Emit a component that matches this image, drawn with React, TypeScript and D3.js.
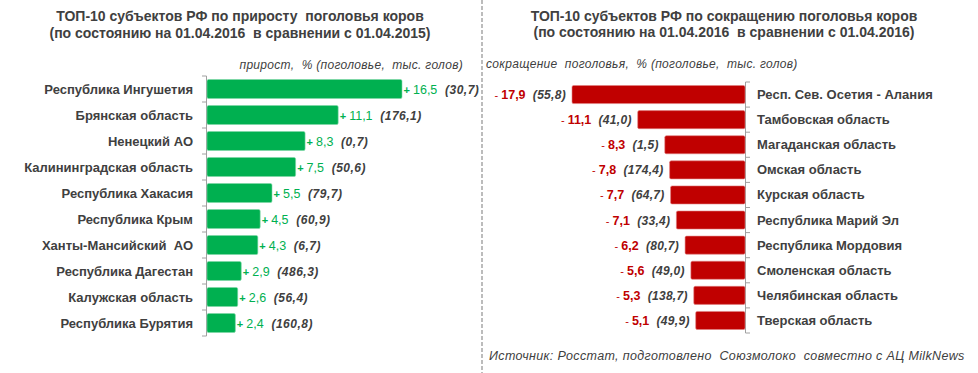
import React from "react";
import * as d3 from "d3";

// left panel: growth
const growthRegions = [
  "Республика Ингушетия",
  "Брянская область",
  "Ненецкий АО",
  "Калининградская область",
  "Республика Хакасия",
  "Республика Крым",
  "Ханты-Мансийский  АО",
  "Республика Дагестан",
  "Калужская область",
  "Республика Бурятия",
];
const growthPct = [16.5, 11.1, 8.3, 7.5, 5.5, 4.5, 4.3, 2.9, 2.6, 2.4];
const growthHead = [30.7, 176.1, 0.7, 50.6, 79.7, 60.9, 6.7, 486.3, 56.4, 160.8];

// right panel: decline
const declineRegions = [
  "Респ. Сев. Осетия - Алания",
  "Тамбовская область",
  "Магаданская область",
  "Омская область",
  "Курская область",
  "Республика Марий Эл",
  "Республика Мордовия",
  "Смоленская область",
  "Челябинская область",
  "Тверская область",
];
const declinePct = [17.9, 11.1, 8.3, 7.8, 7.7, 7.1, 6.2, 5.6, 5.3, 5.1];
const declineHead = [55.8, 41.0, 1.5, 174.4, 64.7, 33.4, 80.7, 49.0, 138.7, 49.9];

const W = 978;
const H = 373;
const FONT = "'Liberation Sans', Arial, sans-serif";
const TXT = "#404040";
const GREEN = "#00b050";
const RED = "#c00000";

const fmt = (v: number) => v.toFixed(1).replace(".", ",");
const pre = { whiteSpace: "pre" } as React.CSSProperties;

export default function App() {
  // left scales
  const yL = d3.scaleBand<string>().domain(growthRegions).range([76, 336]).paddingInner(0.27).paddingOuter(0.135);
  const xL = d3.scaleLinear().domain([0, 16.5]).range([207, 402]);
  // right scales
  const yR = d3.scaleBand<string>().domain(declineRegions).range([82, 333]).paddingInner(0.28).paddingOuter(0.14);
  const xR = d3.scaleLinear().domain([0, 17.9]).range([745, 572]);

  const ticksL = d3.range(11).map((i) => 76 + (i * (336 - 76)) / 10);
  const ticksR = d3.range(11).map((i) => 82 + (i * (333 - 82)) / 10);

  return (
    <svg width={W} height={H} style={{ position: "absolute", left: 0, top: 0, background: "#fff" }} fontFamily={FONT}>
      <rect width={W} height={H} fill="#fff" />

      {/* titles */}
      <g fontWeight="bold" fontSize={14} fill={TXT} textAnchor="middle">
        <text x={240} y={21} xmlSpace="preserve" style={pre}>ТОП-10 субъектов РФ по приросту  поголовья коров</text>
        <text x={240} y={38} xmlSpace="preserve" style={pre}>(по состоянию на 01.04.2016  в сравнении с 01.04.2015)</text>
        <text x={724} y={21} xmlSpace="preserve" style={pre}>ТОП-10 субъектов РФ по сокращению поголовья коров</text>
        <text x={724} y={37} xmlSpace="preserve" style={pre}>(по состоянию на 01.04.2016  в сравнении с 01.04.2016)</text>
      </g>
      <g fontStyle="italic" fontSize={12} fill={TXT} letterSpacing={0.3}>
        <text x={463} y={69} textAnchor="end" xmlSpace="preserve" style={pre}>прирост,  % (поголовье,  тыс. голов)</text>
        <text x={486} y={68} xmlSpace="preserve" style={pre}>сокращение  поголовья,  % (поголовье,  тыс. голов)</text>
        <text x={489} y={360} fontSize={12.5} letterSpacing={0.35} xmlSpace="preserve" style={pre}>Источник: Росстат, подготовлено  Союзмолоко  совместно с АЦ MilkNews</text>
      </g>

      {/* separator */}
      <line x1={482} x2={482} y1={0} y2={H} stroke="#a6a6a6" strokeWidth={1.5} strokeDasharray="4,2" />

      {/* left bars */}
      <line x1={206.5} x2={206.5} y1={76} y2={336} stroke="#a0a0a0" />
      {ticksL.map((t, i) => (
        <line key={i} x1={202} x2={206.5} y1={t} y2={t} stroke="#a0a0a0" />
      ))}
      {growthRegions.map((r, i) => {
        const y = yL(r)!;
        const bh = yL.bandwidth();
        const x1 = xL(growthPct[i]);
        return (
          <g key={r}>
            <rect x={xL(0)} y={y} width={x1 - xL(0)} height={bh} fill={GREEN} stroke="#7fd6a7" strokeWidth={0.6} rx={1.5} />
            <text x={193} y={y + bh / 2 + 4.5} textAnchor="end" fontWeight="bold" fontSize={13} fill={TXT} xmlSpace="preserve" style={pre}>{r}</text>
            <text x={x1 + 1.5} y={y + bh / 2 + 4.5} fontSize={12.5} xmlSpace="preserve" style={pre}>
              <tspan fill={GREEN} fontWeight="bold" fontSize={11}>+ </tspan>
              <tspan fill={GREEN}>{fmt(growthPct[i])}</tspan>
              <tspan fill={TXT} fontWeight="bold" fontStyle="italic" fontSize={12} letterSpacing={0.5}>{"  (" + fmt(growthHead[i]) + ")"}</tspan>
            </text>
          </g>
        );
      })}

      {/* right bars */}
      <line x1={745.5} x2={745.5} y1={82} y2={333} stroke="#a0a0a0" />
      {ticksR.map((t, i) => (
        <line key={i} x1={745.5} x2={750} y1={t} y2={t} stroke="#a0a0a0" />
      ))}
      {declineRegions.map((r, i) => {
        const y = yR(r)!;
        const bh = yR.bandwidth();
        const x0 = xR(declinePct[i]);
        return (
          <g key={r}>
            <rect x={x0} y={y} width={xR(0) - x0} height={bh} fill={RED} stroke="#e08080" strokeWidth={0.6} rx={1.5} />
            <text x={757} y={y + bh / 2 + 4.5} fontWeight="bold" fontSize={13} fill={TXT} xmlSpace="preserve" style={pre}>{r}</text>
            <text x={x0 - 6} y={y + bh / 2 + 4.5} textAnchor="end" fontSize={12.5} xmlSpace="preserve" style={pre}>
              <tspan fill={RED} fontSize={11}>- </tspan>
              <tspan fill={RED} fontWeight="bold">{fmt(declinePct[i])}</tspan>
              <tspan fill={TXT} fontWeight="bold" fontStyle="italic" fontSize={12} letterSpacing={0.3}>{"  (" + fmt(declineHead[i]) + ")"}</tspan>
            </text>
          </g>
        );
      })}
    </svg>
  );
}
